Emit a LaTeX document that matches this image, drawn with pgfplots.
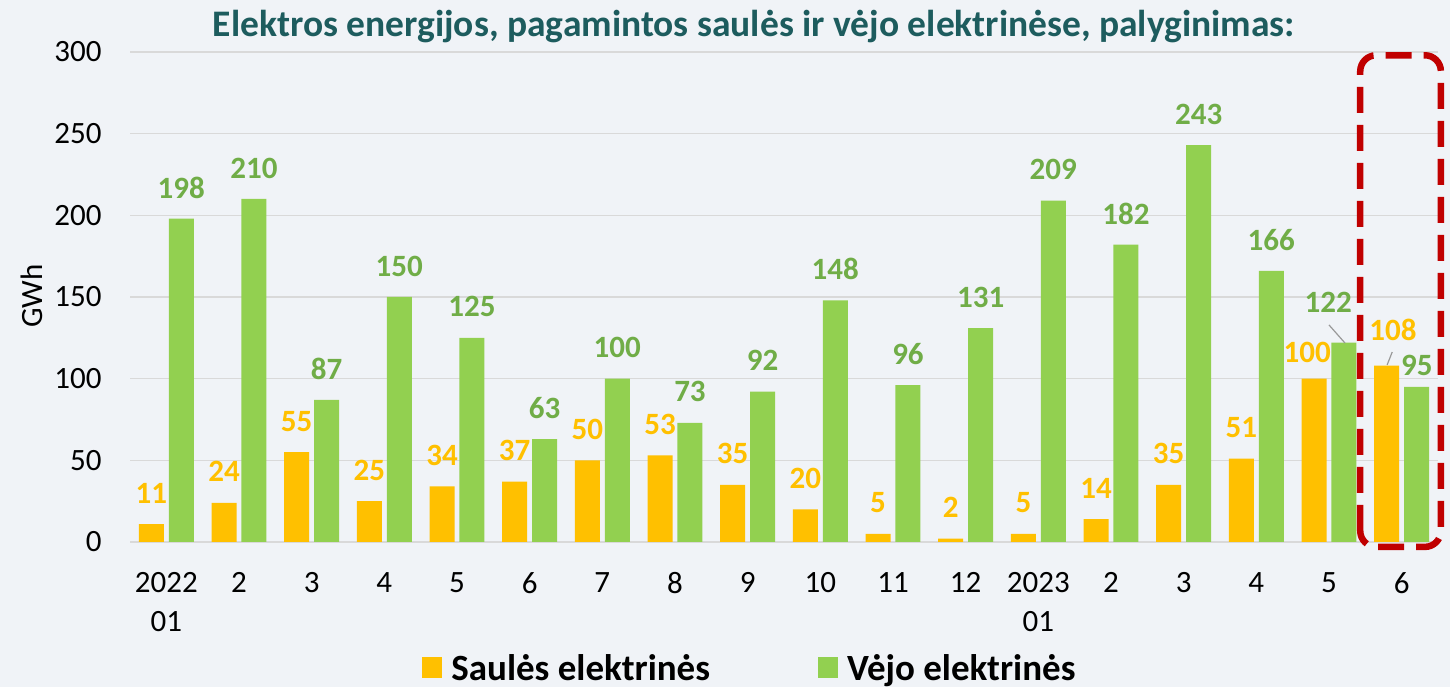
\documentclass[border=0pt]{standalone}
\usepackage{pgfplots}
\usepackage{pgfplotstable}
\pgfplotsset{compat=1.18}
\usepackage{fontspec}
\setmainfont{Carlito}
\definecolor{bg}{HTML}{F0F3F7}
\definecolor{sun}{HTML}{FFC000}
\definecolor{wind}{HTML}{92D050}
\definecolor{windlab}{HTML}{70AD47}
\definecolor{titlec}{HTML}{1D5C5E}
\definecolor{redbox}{HTML}{C00000}
\definecolor{gridc}{HTML}{D9D9D9}
\pgfplotstableread{
x sun sunlab wind windlab
0 11 11 198 198
1 24 24 210 210
2 55 55 87 87
3 25 25 150 150
4 34 34 125 125
5 37 37 63 63
6 50 50 100 100
7 53 53 73 73
8 35 35 92 92
9 20 20 148 148
10 5 5 96 96
11 2 2 131 131
12 5 5 209 209
13 14 14 182 182
14 35 35 243 243
15 51 51 166 166
16 100 {} 122 {}
17 108 {} 95 {}
}\datatable
\begin{document}
\begin{tikzpicture}
\fill[bg] (0,0) rectangle (1450pt,687pt);
\begin{axis}[
  at={(130pt,145pt)}, anchor=south west,
  scale only axis, width=1308pt, height=490pt,
  xmin=-0.5, xmax=17.5, ymin=0, ymax=300,
  ytick={0,50,...,300},
  xtick={0,...,17},
  xticklabels={{2022\\01},2,3,4,5,6,7,8,9,10,11,12,{2023\\01},2,3,4,5,6},
  xticklabel style={align=center, font=\fontsize{31}{39}\selectfont, anchor=north, yshift=-23pt},
  yticklabel style={font=\fontsize{31}{36}\selectfont, xshift=-25pt},
  /pgf/number format/assume math mode=true,
  axis line style={draw=none},
  tick style={draw=none},
  ymajorgrids, major grid style={gridc, line width=1.5pt},
  clip=false,
  ybar, bar width=0.344,
  legend columns=2,
  legend style={at={(0.474,-0.257)}, anchor=center, draw=none, fill=none,
    font=\fontsize{37}{40}\bfseries\selectfont,
    /tikz/every odd column/.append style={column sep=7pt},
    /tikz/every even column/.append style={column sep=106pt}},
  legend image code/.code={\fill[#1] (0pt,-10pt) rectangle (20pt,11pt);},
]
\addplot[fill=sun, draw=none, bar shift=-0.206,
  nodes near coords, point meta=explicit symbolic,
  nodes near coords style={text=sun, font=\fontsize{31}{36}\bfseries\selectfont, anchor=center, yshift=31pt}]
  table[x=x, y=sun, meta=sunlab]{\datatable};
\addlegendentry{Saulės elektrinės}
\addplot[fill=wind, draw=none, bar shift=0.206,
  nodes near coords, point meta=explicit symbolic,
  nodes near coords style={text=windlab, font=\fontsize{31}{36}\bfseries\selectfont, anchor=center, yshift=31pt}]
  table[x=x, y=wind, meta=windlab]{\datatable};
\addlegendentry{Vėjo elektrinės}
\draw[gray!80, line width=1.2pt] (axis cs:16.0,132.9) -- (axis cs:16.22,121.8);
\draw[gray!80, line width=1.2pt] (axis cs:16.87,116.3) -- (axis cs:16.80,108.4);
\node[text=windlab, font=\fontsize{31}{36}\bfseries\selectfont] at (axis cs:15.99,147) {122};
\node[text=sun, font=\fontsize{31}{36}\bfseries\selectfont] at (axis cs:15.70,116.3) {100};
\node[text=sun, font=\fontsize{31}{36}\bfseries\selectfont] at (axis cs:16.88,129.8) {108};
\node[text=windlab, font=\fontsize{31}{36}\bfseries\selectfont] at (axis cs:17.21,108.4) {95};
\draw[redbox, line width=6.5pt, dash pattern=on 26pt off 12pt, rounded corners=16pt]
  (axis cs:16.43,-3) rectangle (axis cs:17.54,298);
\end{axis}
\node[text=titlec, font=\fontsize{37.5}{40}\bfseries\selectfont] at (754pt,660pt)
  {Elektros energijos, pagamintos saulės ir vėjo elektrinėse, palyginimas:};
\node[rotate=90, font=\fontsize{31}{36}\selectfont] at (32pt,391pt) {GWh};
\pgfresetboundingbox
\path[use as bounding box] (0,0) rectangle (1450pt,687pt);
\end{tikzpicture}
\end{document}
